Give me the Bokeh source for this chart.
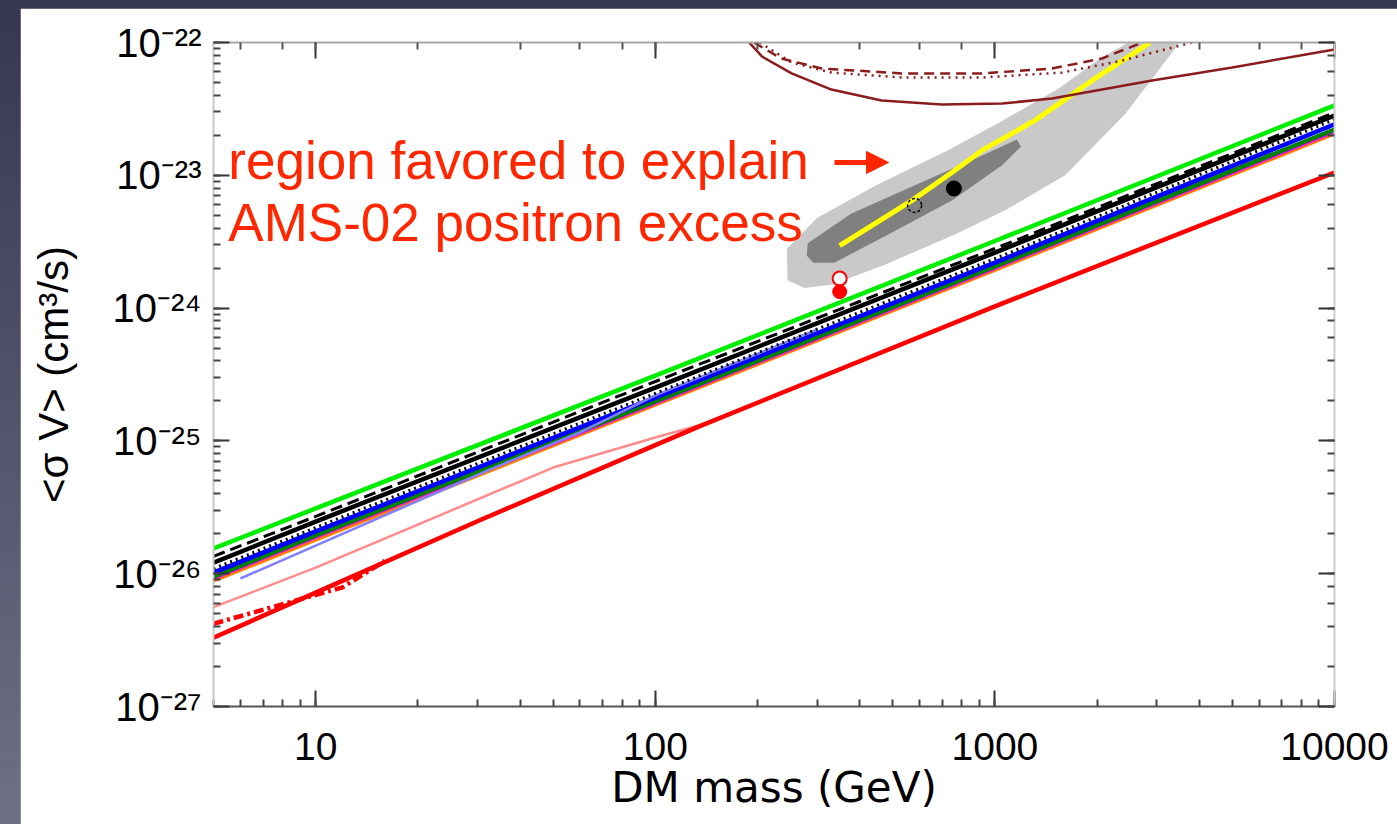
from bokeh.plotting import figure
from bokeh.models import (LogAxis, Label, Arrow, NormalHead, Range1d,
                          CustomJSTickFormatter, LogTicker)
from bokeh.layouts import column
from bokeh.embed import file_html
from bokeh.resources import INLINE

# ---------------- data ----------------
mass_grid = [5, 10, 100, 1000, 10000]
green_sv = [1.55e-26, 3.1e-26, 3.1e-25, 3.2e-24, 3.36e-23]
black_sv = [1.21e-26, 2.47e-26, 2.52e-25, 2.62e-24, 2.82e-23]
black_dash_sv = [1.35e-26, 2.7e-26, 2.8e-25, 2.81e-24, 2.97e-23]
black_dot_sv = [1.09e-26, 2.23e-26, 2.28e-25, 2.36e-24, 2.63e-23]
blue_sv = [1.02e-26, 2.08e-26, 2.12e-25, 2.2e-24, 2.42e-23]
dkgreen_sv = [9.5e-27, 1.94e-26, 1.98e-25, 2.06e-24, 2.21e-23]
magenta_sv = [9.3e-27, 1.9e-26, 1.94e-25, 2.02e-24, 2.15e-23]
orange_sv = [8.9e-27, 1.81e-26, 1.88e-25, 1.95e-24, 2.07e-23]

lightblue_mass = [6, 10, 32, 60, 100, 300]
lightblue_sv = [9.2e-27, 1.63e-26, 5.98e-26, 1.16e-25, 2.2e-25, 6.9e-25]

pink_mass = [5, 10, 50, 100, 145]
pink_sv = [5.6e-27, 1.11e-26, 6.3e-26, 1.06e-25, 1.38e-25]

red_mass = [5, 10, 31, 100, 137, 1000, 10000]
red_sv = [3.3e-27, 7.2e-27, 2.58e-26, 9.3e-26, 1.31e-25, 1.03e-24, 1.05e-23]

red_dd_mass = [5, 12, 16]
red_dd_sv = [4.2e-27, 7.9e-27, 1.25e-26]

# maroon curves at the top
maroon_mass = [189, 206, 252, 330, 464, 698, 1050, 1473, 2904, 5000, 10000]
maroon_sv = [1e-22, 7.85e-23, 5.85e-23, 4.42e-23, 3.66e-23, 3.41e-23, 3.47e-23,
             3.79e-23, 5.18e-23, 6.49e-23, 8.85e-23]
maroon_dash_mass = [195, 235, 309, 532, 916, 1473, 2067, 2716]
maroon_dash_sv = [1e-22, 7.58e-23, 6.37e-23, 5.85e-23, 5.85e-23, 6.37e-23, 7.58e-23, 1e-22]
maroon_dot_mass = [203, 252, 330, 532, 916, 1577, 2371, 3811]
maroon_dot_sv = [1e-22, 7.07e-23, 5.94e-23, 5.45e-23, 5.45e-23, 5.94e-23, 7.31e-23, 1e-22]

# favoured region (contours)
outer_mass = [245, 244, 300, 450, 730, 1030, 1540, 2030, 2470, 3500,
              2420, 1610, 1080, 765, 470, 330, 275]
outer_sv = [1.62e-24, 2.8e-24, 4.8e-24, 8.5e-24, 1.55e-23, 2.5e-23, 4.5e-23,
            7.5e-23, 1e-22, 1e-22, 2.9e-23, 1.0e-23, 5.5e-24, 3.6e-24,
            2.1e-24, 1.5e-24, 1.42e-24]
inner_mass = [281, 378, 597, 934, 1161, 1194, 1050, 747, 473, 337, 292, 279]
inner_sv = [3.08e-24, 5.15e-24, 8.67e-24, 1.44e-23, 1.86e-23, 1.65e-23, 1.19e-23,
            6.45e-24, 3.46e-24, 2.2e-24, 2.2e-24, 2.49e-24]

yellow_mass = [349, 569, 747, 916, 1313, 1933, 2864]
yellow_sv = [2.96e-24, 6.45e-24, 1.05e-23, 1.54e-23, 2.59e-23, 5.18e-23, 1e-22]

open_black = ([580], [5.93e-24])
filled_black = ([757], [7.96e-24])
open_red = ([349], [1.67e-24])
filled_red = ([349], [1.33e-24])

note_lines = ["region favored to explain", "AMS-02 positron excess"]

# ---------------- figure ----------------
FONT = "Liberation Sans"
RED_TXT = "#ff2600"

p = figure(width=1377, height=816, x_axis_type="log", y_axis_type="log",
           x_range=Range1d(5, 10000), y_range=Range1d(1e-27, 1e-22),
           output_backend="svg", toolbar_location=None,
           min_border_left=193, min_border_right=63,
           min_border_top=34, min_border_bottom=118,
           background_fill_color="white", border_fill_color="white",
           x_axis_label="DM mass (GeV)", y_axis_label="<σ V> (cm³/s)")
p.margin = (8, 0, 0, 20)
p.xgrid.visible = False
p.ygrid.visible = False
p.outline_line_color = None

sup_code = """
const e = Math.round(Math.log10(tick));
const sup = {'-':'\u207b','0':'\u2070','1':'\u00b9','2':'\u00b2','3':'\u00b3','4':'\u2074','5':'\u2075','6':'\u2076','7':'\u2077','8':'\u2078','9':'\u2079'};
return '10' + String(e).split('').map(c => sup[c]).join('');
"""
p.yaxis.formatter = CustomJSTickFormatter(code=sup_code)
p.xaxis.formatter = CustomJSTickFormatter(code="return Math.round(tick).toString();")

for ax in (p.xaxis[0], p.yaxis[0]):
    ax.major_label_text_font = FONT
    ax.major_label_text_font_size = "40px"
    ax.major_label_text_color = "black"
    ax.axis_label_text_font = FONT
    ax.axis_label_text_font_size = "42px"
    ax.axis_label_text_font_style = "normal"
    ax.axis_label_text_color = "black"
    ax.major_tick_in = 16
    ax.major_tick_out = 0
    ax.minor_tick_in = 7
    ax.minor_tick_out = 0
    ax.major_tick_line_color = "#333333"
    ax.minor_tick_line_color = "#444444"
    ax.major_tick_line_width = 2
    ax.minor_tick_line_width = 2

p.xaxis.major_label_text_font_size = "39px"
p.xaxis.axis_label_text_font = "DejaVu Sans"
p.xaxis.axis_label_text_font_size = "42px"
p.xaxis.axis_line_color = "#555555"
p.xaxis.axis_line_width = 2
p.yaxis.axis_line_color = "#c8c8c8"
p.yaxis.axis_line_width = 2
p.xaxis.major_label_standoff = 26
p.xaxis.axis_label_standoff = 0
p.yaxis.major_label_standoff = 12
p.yaxis.axis_label_standoff = 33

top_ax = LogAxis(ticker=LogTicker(), formatter=CustomJSTickFormatter(code="return '1';"),
                 major_label_text_font_size="10px", major_label_text_alpha=0,
                 major_label_standoff=0,
                 major_tick_in=16, major_tick_out=0, minor_tick_in=7, minor_tick_out=0,
                 axis_line_color="#aaaaaa", axis_line_width=2,
                 major_tick_line_color="#333333", minor_tick_line_color="#555555",
                 major_tick_line_width=2, minor_tick_line_width=2)
right_ax = LogAxis(ticker=LogTicker(), formatter=CustomJSTickFormatter(code="return '1';"),
                   major_label_text_font_size="10px", major_label_text_alpha=0,
                   major_label_standoff=0,
                   major_tick_in=16, major_tick_out=0, minor_tick_in=7, minor_tick_out=0,
                   axis_line_color="#cccccc", axis_line_width=2,
                   major_tick_line_color="#333333", minor_tick_line_color="#444444",
                   major_tick_line_width=2, minor_tick_line_width=2)
p.add_layout(top_ax, "above")
p.add_layout(right_ax, "right")

# favoured region
p.patch(outer_mass, outer_sv, fill_color="#c9c9c9", line_color=None)
p.patch(inner_mass, inner_sv, fill_color="#808080", line_color=None)
p.line(yellow_mass, yellow_sv, line_color="#ffff00", line_width=5)

# maroon curves
MAROON = "#8b1c1c"
p.line(maroon_mass, maroon_sv, line_color=MAROON, line_width=2.5)
p.line(maroon_dash_mass, maroon_dash_sv, line_color=MAROON, line_width=2.5, line_dash="10 6")
p.line(maroon_dot_mass, maroon_dot_sv, line_color=MAROON, line_width=2.5, line_dash="2 5")

# limit lines
LW = 4.5
p.line(mass_grid, orange_sv, line_color="#ff8000", line_width=LW)
p.line(mass_grid, magenta_sv, line_color="#ff00ff", line_width=LW)
p.line(mass_grid, dkgreen_sv, line_color="#008000", line_width=LW)
p.line(mass_grid, blue_sv, line_color="#0000ff", line_width=LW)
p.line(lightblue_mass, lightblue_sv, line_color="#8080ff", line_width=2.5)
p.line(mass_grid, black_dot_sv, line_color="black", line_width=3, line_dash="2 4")
p.line(mass_grid, black_dash_sv, line_color="black", line_width=3, line_dash="12 6")
p.line(mass_grid, black_sv, line_color="black", line_width=LW)
p.line(mass_grid, green_sv, line_color="#00ee00", line_width=LW)
p.line(pink_mass, pink_sv, line_color="#ff8c8c", line_width=2.5)
p.line(red_dd_mass, red_dd_sv, line_color="#ff0000", line_width=LW, line_dash="10 4 3 4")
p.line(red_mass, red_sv, line_color="#ff0000", line_width=LW)

# markers
p.scatter(open_red[0], open_red[1], size=14, fill_color="white", line_color="#ff0000", line_width=2)
p.scatter(filled_red[0], filled_red[1], size=14, fill_color="#ff0000", line_color="#ff0000")
p.scatter(open_black[0], open_black[1], size=14, fill_alpha=0, line_color="black",
          line_width=1.5, line_dash="3 2")
p.scatter(filled_black[0], filled_black[1], size=15, fill_color="black", line_color="black")

# annotation
p.add_layout(Label(x=5.53, y=1.29e-23, text=note_lines[0], text_font=FONT,
                   text_font_size="53px", text_color=RED_TXT, text_baseline="alphabetic"))
p.add_layout(Label(x=5.53, y=4.42e-24, text=note_lines[1], text_font=FONT,
                   text_font_size="53px", text_color=RED_TXT, text_baseline="alphabetic"))
p.add_layout(Arrow(end=NormalHead(size=22, fill_color=RED_TXT, line_color=RED_TXT),
                   x_start=337, y_start=1.25e-23, x_end=486, y_end=1.25e-23,
                   line_color=RED_TXT, line_width=5))

page = column(p, styles={"background": "linear-gradient(180deg, #353651 0%, #6f6f85 100%)"})
open("out.html", "w").write(file_html(page, INLINE))
